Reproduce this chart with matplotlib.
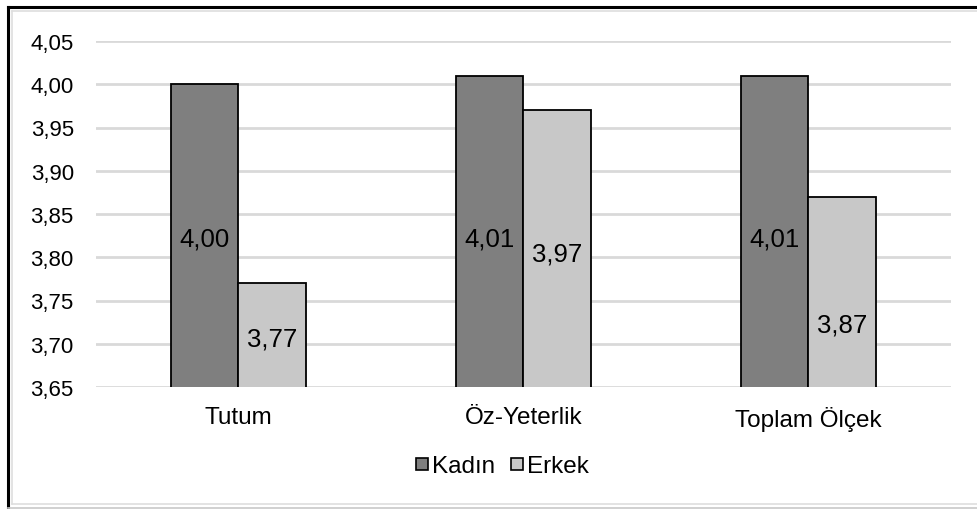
import matplotlib.pyplot as plt
from matplotlib.lines import Line2D
import numpy as np

categories = ["Tutum", "Öz-Yeterlik", "Toplam Ölçek"]
series_names = ["Kadın", "Erkek"]
kadin = [4.00, 4.01, 4.01]
erkek = [3.77, 3.97, 3.87]
yticks = [3.65, 3.70, 3.75, 3.80, 3.85, 3.90, 3.95, 4.00, 4.05]

# where the value labels sit inside the bars (data units)
kadin_label_y = [3.822, 3.822, 3.822]
erkek_label_y = [3.706, 3.804, 3.722]

colors = ["#7f7f7f", "#c8c8c8"]

plt.rcParams["font.family"] = ["Liberation Sans", "DejaVu Sans"]

fig = plt.figure(figsize=(9.78, 5.10), dpi=100)
ax = fig.add_axes([96 / 978, 1 - 388 / 510, (951 - 96) / 978, (388 - 42) / 510])

x = np.arange(len(categories))
w = 0.236

ax.bar(x - w / 2, kadin, w, color=colors[0], edgecolor="black", linewidth=1.3, zorder=3)
ax.bar(x + w / 2, erkek, w, color=colors[1], edgecolor="black", linewidth=1.3, zorder=3)

fmt = lambda v: f"{v:.2f}".replace(".", ",")
for i in range(len(categories)):
    ax.text(x[i] - w / 2, kadin_label_y[i], fmt(kadin[i]), ha="center", va="center",
            fontsize=18.5, zorder=4)
    ax.text(x[i] + w / 2, erkek_label_y[i], fmt(erkek[i]), ha="center", va="center",
            fontsize=18.5, zorder=4)

ax.set_xlim(-0.5, len(categories) - 0.5)
ax.set_ylim(3.65, 4.05)
ax.set_yticks(yticks)
ax.set_yticklabels([fmt(t) for t in yticks], fontsize=16)
ax.set_xticks(x)
ax.set_xticklabels(categories, fontsize=17.5)
ax.tick_params(axis="both", length=0)
ax.tick_params(axis="y", pad=16)
ax.tick_params(axis="x", pad=14)
ax.grid(axis="y", color="#d9d9d9", linewidth=2, zorder=0)
for s in ax.spines.values():
    s.set_visible(False)

handles = [Line2D([], [], marker="s", linestyle="none", markersize=8,
                  markerfacecolor=c, markeredgecolor="black", markeredgewidth=1.2)
           for c in colors]
fig.legend(handles, series_names, loc="center", bbox_to_anchor=(502 / 978, 1 - 467 / 510),
           ncol=2, frameon=False, fontsize=17.5, handlelength=0.6, handletextpad=0.1,
           columnspacing=0.6)

# outer frame
fig.add_artist(Line2D([8 / 978, 8 / 978], [0, 1 - 8 / 510], color="black", linewidth=2.2))
fig.add_artist(Line2D([8 / 978, 1], [1 - 8 / 510, 1 - 8 / 510], color="black", linewidth=2.2))
fig.add_artist(Line2D([12 / 978, 12 / 978], [1 - 505 / 510, 1 - 12 / 510], color="#dedede", linewidth=1.2))
fig.add_artist(Line2D([12 / 978, 1], [1 - 12 / 510, 1 - 12 / 510], color="#dedede", linewidth=1.2))
fig.add_artist(Line2D([12 / 978, 1], [1 - 505 / 510, 1 - 505 / 510], color="#dedede", linewidth=1.2))
fig.add_artist(Line2D([8 / 978, 1], [1 - 508.5 / 510, 1 - 508.5 / 510], color="#c8c8c8", linewidth=1.2))

fig.savefig("out.png", dpi=100)
